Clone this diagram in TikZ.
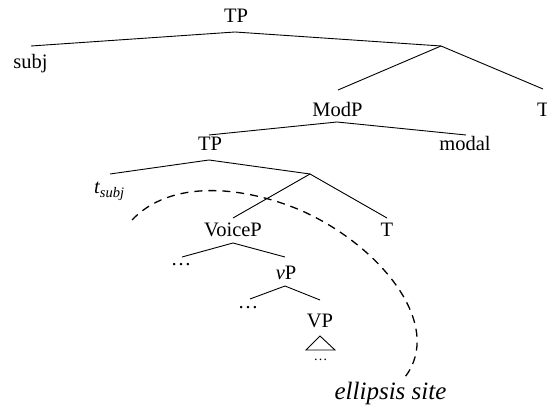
\documentclass[tikz,border=0pt]{standalone}
\usepackage{fontspec}
\setmainfont{Liberation Serif}
\tikzset{
  lbl/.style={font=\fontsize{20.5}{24}\selectfont, inner sep=0pt, anchor=base},
  smalldots/.style={font=\fontsize{14}{16}\selectfont, inner sep=0pt, anchor=base},
  bigit/.style={font=\fontsize{25}{30}\selectfont\itshape, inner sep=0pt, anchor=base},
  branch/.style={line width=0.9pt},
  elided/.style={line width=1.3pt, dash pattern=on 8pt off 6pt},
}
\begin{document}
\begin{tikzpicture}[x=1pt,y=-1pt]
\useasboundingbox (0,0) rectangle (547,411);
% labels
\node[lbl] (tp1) at (236,23) {TP};
\node[lbl] (subj) at (30.5,68.5) {subj};
\node[lbl] (modp) at (337.5,117) {ModP};
\node[lbl] (t1) at (543.5,117) {T};
\node[lbl] (tp2) at (210,151) {TP};
\node[lbl] (modal) at (465,151) {modal};
\node[lbl, anchor=base west] (tsubj) at (94,194) {\itshape t\raisebox{-3.5pt}{\fontsize{14.5}{16}\selectfont subj}};
\node[lbl] (voicep) at (233,236.7) {VoiceP};
\node[lbl] (t2) at (387,237) {T};
\node[lbl] (dots1) at (181,266) {…};
\node[lbl] (vp) at (286,280) {\textit{v}P};
\node[lbl] (dots2) at (248,309) {…};
\node[lbl] (VP) at (320,328) {VP};
\node[smalldots] (dots3) at (320.5,360.5) {…};
\node[bigit] (ell) at (390.5,400) {ellipsis site};
% attachment points
\coordinate (tp1b) at (235,32);
\coordinate (subjt) at (31,46);
\coordinate (bar1) at (441,46);
\coordinate (modpt) at (338,90);
\coordinate (t1t) at (543,89);
\coordinate (modpb) at (337,122);
\coordinate (tp2t) at (209,135);
\coordinate (modalt) at (466,135);
\coordinate (tp2b) at (209,160);
\coordinate (tsubjt) at (110,174);
\coordinate (bar2) at (310,174);
\coordinate (voicept) at (233,218);
\coordinate (t2t) at (387,218);
\coordinate (voicepb) at (233,243);
\coordinate (dots1t) at (182,257);
\coordinate (vpt) at (285,257);
\coordinate (vpb) at (285,286);
\coordinate (dots2t) at (250,299);
\coordinate (VPt) at (320,300);
\coordinate (tri-a) at (320,336);
\coordinate (tri-l) at (306,350);
\coordinate (tri-r) at (335,350);
% branches
\draw[branch] (subjt) -- (tp1b) -- (bar1);
\draw[branch] (modpt) -- (bar1) -- (t1t);
\draw[branch] (tp2t) -- (modpb) -- (modalt);
\draw[branch] (tsubjt) -- (tp2b) -- (bar2);
\draw[branch] (voicept) -- (bar2) -- (t2t);
\draw[branch] (dots1t) -- (voicepb) -- (vpt);
\draw[branch] (dots2t) -- (vpb) -- (VPt);
\draw[branch] (tri-a) -- (tri-l) -- (tri-r) -- cycle;
% ellipsis site boundary
\coordinate (es-start) at (132,220);
\coordinate (es-mid) at (300,210);
\coordinate (es-end) at (405,377);
\draw[elided] (es-start) .. controls (170,180) and (240,185) .. (es-mid)
  .. controls (380,245) and (445,325) .. (es-end);
\end{tikzpicture}
\end{document}
